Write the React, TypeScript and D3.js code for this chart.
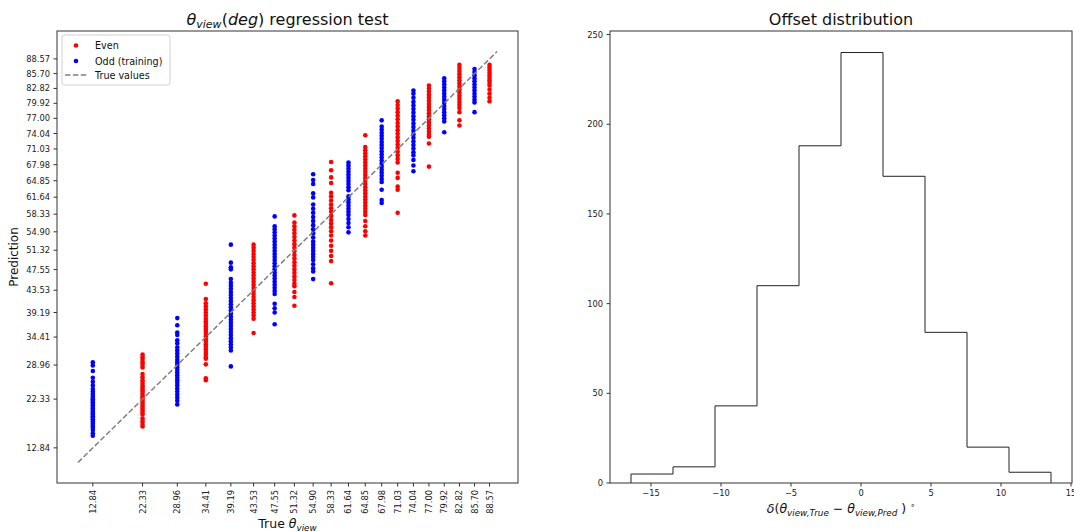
import React from 'react';
import * as d3 from 'd3';

// ---------------- data ----------------
const trueValues = [12.84, 22.33, 28.96, 34.41, 39.19, 43.53, 47.55, 51.32, 54.9, 58.33, 61.64, 64.85, 67.98, 71.03, 74.04, 77.0, 79.92, 82.82, 85.7, 88.57];
const tickLabels = ['12.84', '22.33', '28.96', '34.41', '39.19', '43.53', '47.55', '51.32', '54.90', '58.33', '61.64', '64.85', '67.98', '71.03', '74.04', '77.00', '79.92', '82.82', '85.70', '88.57'];

const pred_12_84 = [29.5, 28.9, 27.8, 26.5, 25.7, 25.0, 24.3, 23.8, 23.4, 23.0, 22.6, 22.3, 22.0, 21.7, 21.4, 21.1, 20.8, 20.5, 20.2, 19.9, 19.6, 19.3, 19.0, 18.7, 18.4, 18.0, 17.6, 17.2, 16.8, 16.3, 15.7, 15.2];
const pred_22_33 = [31.0, 30.5, 30.0, 29.5, 29.0, 28.5, 27.2, 26.6, 26.0, 25.5, 25.0, 24.6, 24.2, 23.8, 23.4, 23.0, 22.6, 22.2, 21.8, 21.4, 21.0, 20.6, 20.2, 19.8, 19.4, 18.6, 18.0, 17.5, 17.0];
const pred_28_96 = [38.1, 36.7, 35.3, 34.8, 33.8, 33.2, 32.4, 31.8, 31.2, 30.6, 30.0, 29.5, 29.0, 28.5, 28.0, 27.5, 27.0, 26.5, 26.0, 25.5, 25.0, 24.4, 23.8, 23.2, 22.6, 22.0, 21.3];
const pred_34_41 = [44.8, 41.8, 41.0, 40.4, 39.8, 39.2, 38.6, 38.0, 37.5, 37.0, 36.5, 36.0, 35.5, 35.0, 34.5, 34.0, 33.5, 33.0, 32.5, 32.0, 31.5, 31.0, 30.5, 30.2, 29.1, 26.4, 26.0];
const pred_39_19 = [52.4, 48.9, 48.0, 47.6, 45.7, 45.0, 44.4, 43.8, 43.2, 42.6, 42.0, 41.4, 40.8, 40.2, 39.6, 39.0, 38.4, 37.8, 37.2, 36.6, 36.0, 35.4, 34.8, 34.2, 33.6, 33.0, 32.4, 31.8, 28.7];
const pred_43_53 = [52.4, 51.8, 51.2, 50.6, 50.0, 49.4, 48.8, 48.2, 47.6, 47.0, 46.4, 45.8, 45.2, 44.6, 44.0, 43.4, 42.8, 42.2, 41.6, 41.0, 40.4, 39.8, 39.2, 38.6, 38.0, 35.2];
const pred_47_55 = [57.9, 56.0, 55.4, 54.8, 54.2, 53.6, 53.0, 52.4, 51.8, 51.2, 50.6, 50.0, 49.4, 48.8, 48.2, 47.6, 47.0, 46.4, 45.8, 45.2, 44.6, 44.0, 43.4, 42.8, 40.9, 40.0, 39.2, 36.9];
const pred_51_32 = [58.1, 56.7, 56.0, 55.3, 54.6, 53.9, 53.2, 52.5, 51.8, 51.1, 50.4, 49.7, 49.0, 48.3, 47.6, 46.9, 46.2, 45.5, 44.8, 44.3, 43.2, 42.2, 40.5];
const pred_54_90 = [66.1, 65.0, 64.2, 62.4, 61.6, 60.2, 59.4, 58.6, 57.8, 57.0, 56.2, 55.4, 54.6, 53.8, 53.0, 52.4, 51.8, 51.2, 50.6, 50.0, 49.4, 48.6, 47.8, 47.2, 45.7];
const pred_58_33 = [68.5, 66.9, 65.5, 64.4, 62.5, 61.8, 61.0, 60.2, 59.5, 58.8, 58.0, 57.2, 56.5, 55.8, 55.0, 54.2, 53.2, 52.2, 51.2, 50.2, 49.2, 44.9];
const pred_61_64 = [68.4, 67.8, 67.2, 66.6, 66.0, 65.4, 64.8, 64.2, 63.6, 63.0, 61.8, 61.2, 60.6, 60.0, 59.4, 58.8, 58.2, 57.4, 56.6, 55.8, 54.8];
const pred_64_85 = [73.7, 71.4, 70.8, 70.2, 69.6, 69.0, 68.4, 67.8, 67.2, 66.6, 66.0, 65.4, 64.8, 64.2, 63.6, 63.0, 62.4, 61.8, 61.2, 60.6, 60.0, 59.4, 58.8, 58.2, 57.0, 56.0, 55.0, 54.2];
const pred_67_98 = [76.6, 75.4, 74.8, 74.2, 73.6, 73.0, 72.4, 71.8, 71.2, 70.6, 70.0, 69.4, 68.8, 68.2, 67.6, 67.0, 66.4, 65.8, 65.2, 64.6, 63.1, 61.1, 60.5];
const pred_71_03 = [80.3, 79.6, 78.9, 78.2, 77.5, 76.8, 76.1, 75.4, 74.7, 74.0, 73.3, 72.6, 71.9, 71.2, 70.5, 69.8, 69.1, 68.4, 66.4, 65.4, 63.7, 63.1, 58.6];
const pred_74_04 = [82.4, 81.8, 81.0, 80.2, 79.5, 78.8, 78.1, 77.4, 76.7, 76.0, 75.3, 74.6, 73.9, 73.2, 72.5, 71.8, 71.1, 70.4, 69.8, 68.9, 67.8, 66.7];
const pred_77_00 = [83.4, 82.8, 82.2, 81.6, 81.0, 80.4, 79.8, 79.2, 78.6, 78.0, 77.4, 76.8, 76.2, 75.6, 75.0, 74.4, 73.8, 73.4, 72.1, 67.6];
const pred_79_92 = [84.8, 84.2, 83.6, 83.0, 82.4, 81.8, 81.2, 80.6, 80.0, 79.4, 78.8, 78.2, 77.6, 77.0, 76.4, 74.3];
const pred_82_82 = [87.4, 86.8, 86.2, 85.6, 85.0, 84.4, 83.8, 83.2, 82.6, 82.0, 81.4, 80.8, 80.2, 79.6, 79.0, 78.2, 76.6, 75.6];
const pred_85_70 = [86.6, 86.0, 85.4, 84.8, 84.2, 83.6, 83.0, 82.4, 81.8, 81.2, 80.6, 80.1, 78.2];
const pred_88_57 = [87.4, 86.9, 86.4, 85.9, 85.4, 84.9, 84.4, 83.9, 83.4, 82.6, 81.8, 81.0, 80.3];

const predictions = [pred_12_84, pred_22_33, pred_28_96, pred_34_41, pred_39_19, pred_43_53, pred_47_55, pred_51_32, pred_54_90, pred_58_33, pred_61_64, pred_64_85, pred_67_98, pred_71_03, pred_74_04, pred_77_00, pred_79_92, pred_82_82, pred_85_70, pred_88_57];
// which set each true value belongs to
const groups = ['odd', 'even', 'odd', 'even', 'odd', 'even', 'odd', 'even', 'odd', 'even', 'odd', 'even', 'odd', 'even', 'odd', 'even', 'odd', 'even', 'odd', 'even'];
const trueLine = [10, 90];

const histEdges = [-16.43, -13.43, -10.43, -7.43, -4.43, -1.43, 1.57, 4.57, 7.57, 10.57, 13.57];
const histCounts = [5, 9, 43, 110, 188, 240, 171, 84, 20, 6];
const histXTicks = [-15, -10, -5, 0, 5, 10, 15];
const histYTicks = [0, 50, 100, 150, 200, 250];

// ---------------- layout ----------------
const W = 1074, H = 532;
const L = { x0: 57, x1: 518, y0: 31, y1: 483 };
const R = { x0: 610, x1: 1072, y0: 31, y1: 483 };
const FONT = 'DejaVu Sans';
const TICK = 8.3;
const AX = '#333';

const colorOf = (g: string) => (g === 'even' ? '#ff0000' : '#0000ff');

export default function App() {
  const x = d3.scaleLinear().domain([6, 94]).range([L.x0, L.x1]);
  const y = d3.scaleLinear().domain([6, 94]).range([L.y1, L.y0]);

  const hx = d3.scaleLinear().domain([-17.93, 15.07]).range([R.x0, R.x1]);
  const hy = d3.scaleLinear().domain([0, 252]).range([R.y1, R.y0]);

  // step outline of histogram
  const stepPts: [number, number][] = [[histEdges[0], 0]];
  histCounts.forEach((c, i) => {
    stepPts.push([histEdges[i], c]);
    stepPts.push([histEdges[i + 1], c]);
  });
  stepPts.push([histEdges[histEdges.length - 1], 0]);
  const stepPath = d3.line<[number, number]>().x((d) => hx(d[0])).y((d) => hy(d[1]))(stepPts) || '';

  const fmtMinus = (v: number) => (v < 0 ? '\u2212' + Math.abs(v) : String(v));

  return (
    <svg width={W} height={H} style={{ position: 'absolute', left: 0, top: 0, background: '#fff' }} fontFamily={FONT}>
      <rect x={0} y={0} width={W} height={H} fill="#fff" />
      {/* ===== left chart ===== */}
      <g>
        {predictions.map((col, i) =>
          col.map((p, j) => (
            <circle key={`${i}-${j}`} cx={x(trueValues[i])} cy={y(p)} r={2.3} fill={colorOf(groups[i])} />
          ))
        )}
        <line x1={x(trueLine[0])} y1={y(trueLine[0])} x2={x(trueLine[1])} y2={y(trueLine[1])} stroke="#808080" strokeWidth={1.5} strokeDasharray="5.5,2.4" />
        <rect x={L.x0} y={L.y0} width={L.x1 - L.x0} height={L.y1 - L.y0} fill="none" stroke={AX} strokeWidth={1} />
        {trueValues.map((v, i) => (
          <g key={'xt' + i}>
            <line x1={x(v)} x2={x(v)} y1={L.y1} y2={L.y1 + 3.5} stroke={AX} />
            <text x={x(v)} y={L.y1 + 7} transform={`rotate(-90, ${x(v)}, ${L.y1 + 7})`} textAnchor="end" dominantBaseline="central" fontSize={TICK} fill="#222">
              {tickLabels[i]}
            </text>
          </g>
        ))}
        {trueValues.map((v, i) => (
          <g key={'yt' + i}>
            <line x1={L.x0 - 3.5} x2={L.x0} y1={y(v)} y2={y(v)} stroke={AX} />
            <text x={L.x0 - 7} y={y(v)} textAnchor="end" dominantBaseline="central" fontSize={TICK} fill="#222">
              {tickLabels[i]}
            </text>
          </g>
        ))}
        {/* title */}
        <text x={(L.x0 + L.x1) / 2} y={25} textAnchor="middle" fontSize={16} fill="#111">
          <tspan fontStyle="italic">θ</tspan>
          <tspan fontStyle="italic" fontSize={11} dy={3}>view</tspan>
          <tspan dy={-3}>(</tspan>
          <tspan fontStyle="italic">deg</tspan>
          <tspan>) regression test</tspan>
        </text>
        {/* x label */}
        <text x={(L.x0 + L.x1) / 2} y={528} textAnchor="middle" fontSize={12.5} fill="#111">
          <tspan>True </tspan>
          <tspan fontStyle="italic">θ</tspan>
          <tspan fontStyle="italic" fontSize={8.8} dy={2.5}>view</tspan>
        </text>
        {/* y label */}
        <text x={18} y={(L.y0 + L.y1) / 2} transform={`rotate(-90, 18, ${(L.y0 + L.y1) / 2})`} textAnchor="middle" fontSize={12} fill="#111">
          Prediction
        </text>
        {/* legend */}
        <g>
          <rect x={62} y={35} width={108} height={50} rx={2.5} fill="#fff" fillOpacity={0.8} stroke="#d0d0d0" strokeWidth={1} />
          <circle cx={76} cy={45.5} r={2.3} fill="#ff0000" />
          <text x={95} y={45.5} dominantBaseline="central" fontSize={9.6} fill="#111">Even</text>
          <circle cx={76} cy={61} r={2.3} fill="#0000ff" />
          <text x={95} y={61} dominantBaseline="central" fontSize={9.6} fill="#111">Odd (training)</text>
          <line x1={65} x2={88} y1={75} y2={75} stroke="#808080" strokeWidth={1.5} strokeDasharray="5.5,2.4" />
          <text x={95} y={75} dominantBaseline="central" fontSize={9.6} fill="#111">True values</text>
        </g>
      </g>

      {/* ===== right chart ===== */}
      <g>
        <path d={stepPath} fill="none" stroke="#222" strokeWidth={1} />
        <rect x={R.x0} y={R.y0} width={R.x1 - R.x0} height={R.y1 - R.y0} fill="none" stroke={AX} strokeWidth={1} />
        {histXTicks.map((v) => (
          <g key={'hx' + v}>
            <line x1={hx(v)} x2={hx(v)} y1={R.y1} y2={R.y1 + 3.5} stroke={AX} />
            <text x={hx(v)} y={R.y1 + 7} textAnchor="middle" dominantBaseline="hanging" fontSize={TICK} fill="#222">
              {fmtMinus(v)}
            </text>
          </g>
        ))}
        {histYTicks.map((v) => (
          <g key={'hy' + v}>
            <line x1={R.x0 - 3.5} x2={R.x0} y1={hy(v)} y2={hy(v)} stroke={AX} />
            <text x={R.x0 - 7} y={hy(v)} textAnchor="end" dominantBaseline="central" fontSize={TICK} fill="#222">
              {v}
            </text>
          </g>
        ))}
        <text x={(R.x0 + R.x1) / 2} y={25} textAnchor="middle" fontSize={16} fill="#111">
          Offset distribution
        </text>
        <text x={(R.x0 + R.x1) / 2} y={513} textAnchor="middle" fontSize={12.5} fill="#111">
          <tspan fontStyle="italic">δ</tspan>
          <tspan>(</tspan>
          <tspan fontStyle="italic">θ</tspan>
          <tspan fontStyle="italic" fontSize={8.8} dy={2.5}>view,True</tspan>
          <tspan dy={-2.5}> − </tspan>
          <tspan fontStyle="italic">θ</tspan>
          <tspan fontStyle="italic" fontSize={8.8} dy={2.5}>view,Pred</tspan>
          <tspan dy={-2.5}> ) </tspan>
          <tspan fontSize={8} dy={-5}>∘</tspan>
        </text>
      </g>
    </svg>
  );
}
